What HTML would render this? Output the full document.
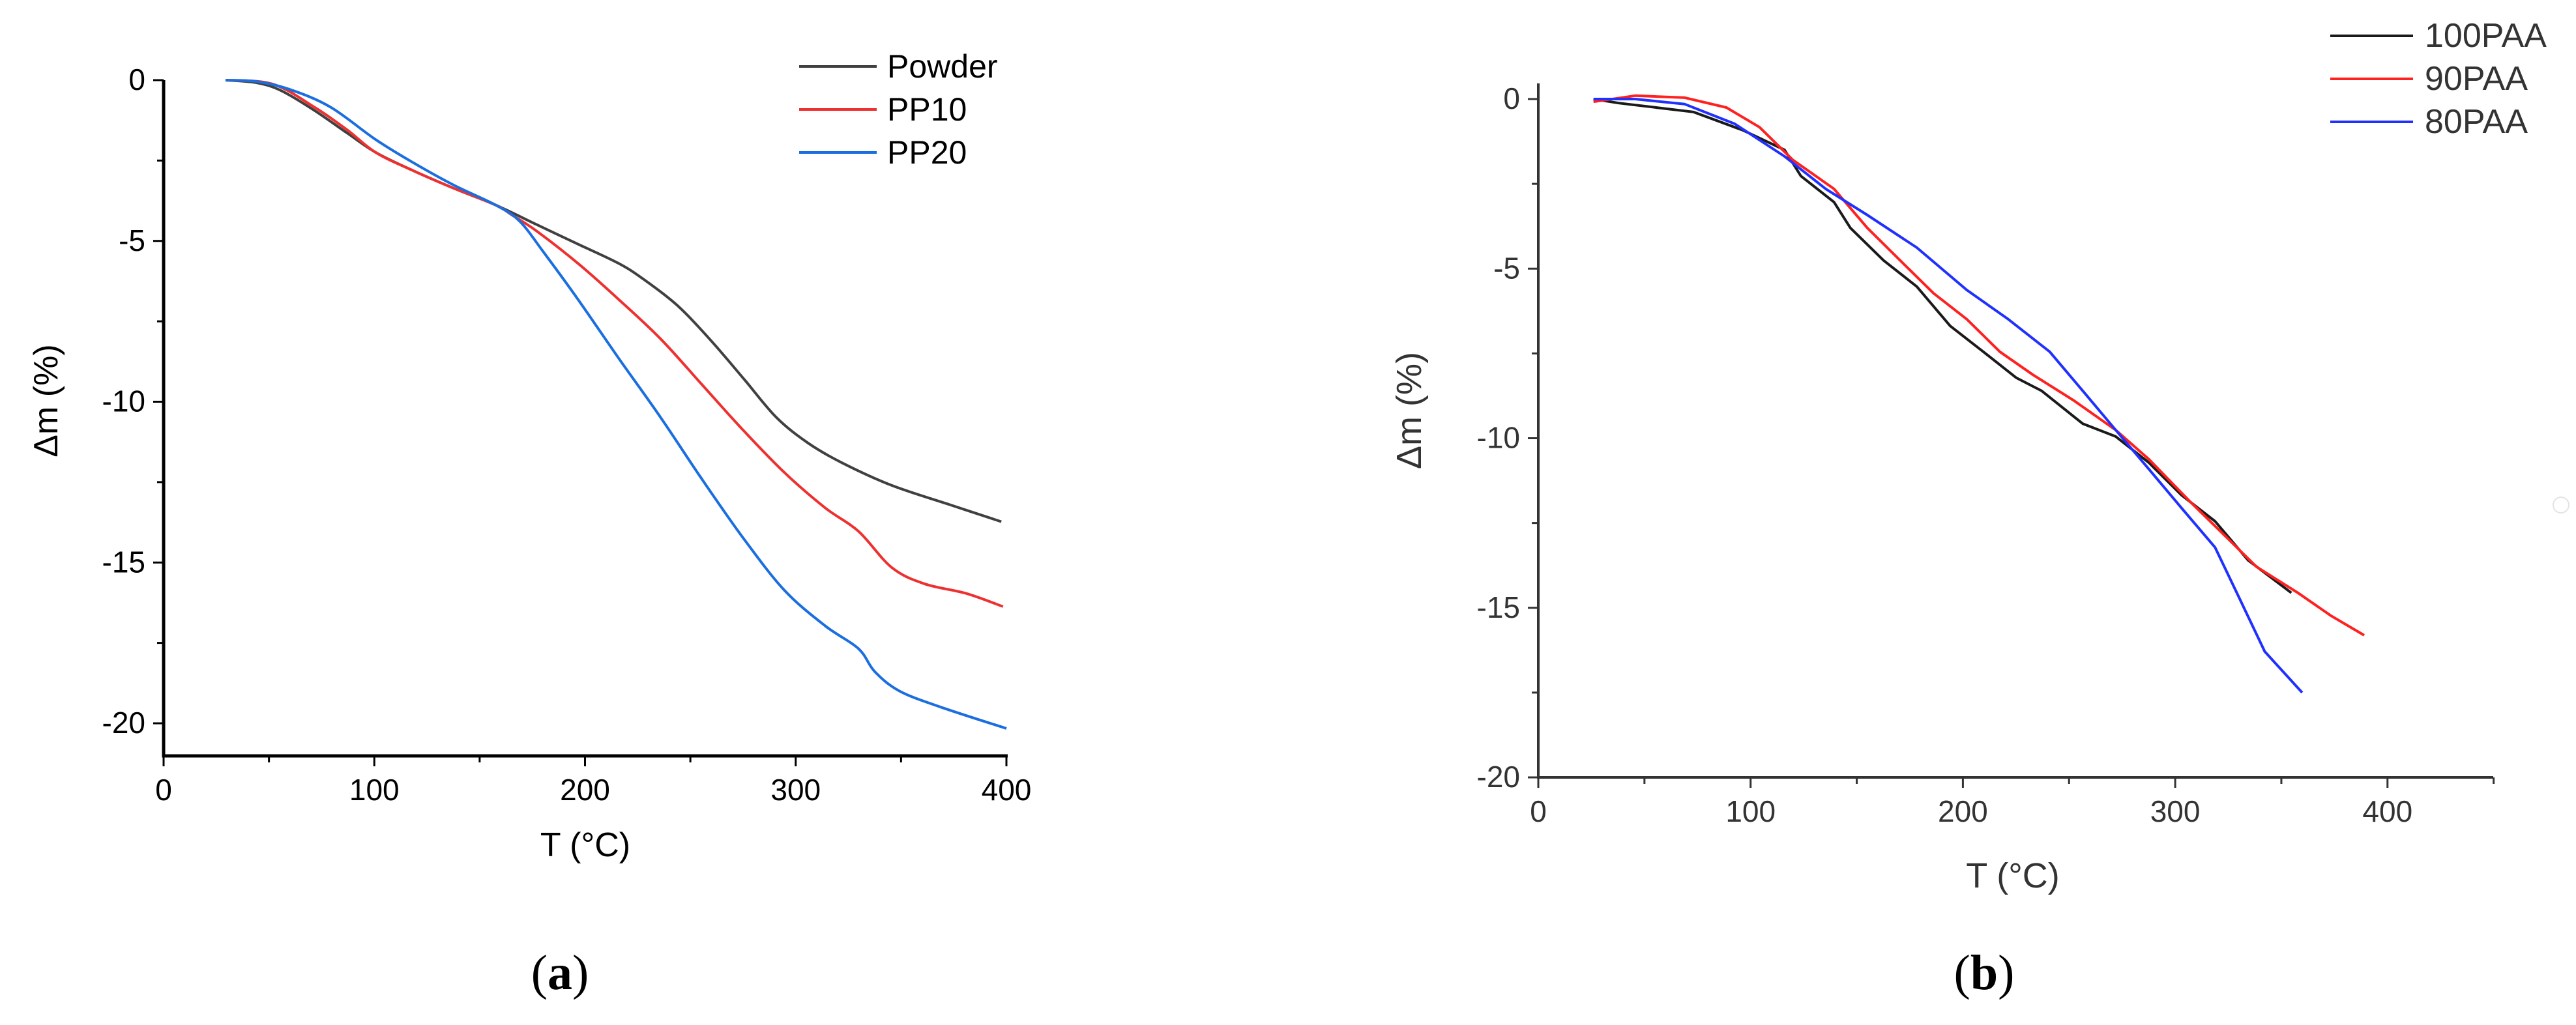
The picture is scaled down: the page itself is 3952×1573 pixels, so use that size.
<!DOCTYPE html>
<html><head><meta charset="utf-8"><style>
html,body{margin:0;padding:0;background:#fff;}
svg{display:block;font-family:"Liberation Sans",sans-serif;}
</style></head><body>
<svg id="svg" width="3952" height="1573" viewBox="0 0 3952 1573" xmlns="http://www.w3.org/2000/svg">
<g id="ga"></g>
<g id="gb"></g>
<text x="859" y="1518" font-family="Liberation Serif, serif" font-size="76" text-anchor="middle">(<tspan font-weight="bold">a</tspan>)</text>
<text x="3044" y="1518" font-family="Liberation Serif, serif" font-size="76" text-anchor="middle">(<tspan font-weight="bold">b</tspan>)</text>
<circle cx="3929" cy="775" r="12" fill="none" stroke="#e4e4e4" stroke-width="2"/>
</svg>
<script>
// ---- Chart (a) data ----
const aNames = ["Powder","PP10","PP20"];
const aColors = ["#404040","#ee3030","#1a6ee0"];
const aPowderT = [29.4,43.9,55.6,71.3,87,100.7,118,138,157.5,177,196.7,216,228,243.7,259,275,290.7,306,322,345.5,373,397.6];
const aPowderM = [0,-0.08,-0.32,-0.93,-1.64,-2.25,-2.8,-3.37,-3.88,-4.49,-5.1,-5.7,-6.2,-7.0,-8.04,-9.26,-10.48,-11.29,-11.9,-12.6,-13.2,-13.73];
const aPP10T = [29.4,51.7,71.3,87,100.7,118,138,157.5,165,177,196.7,216,235.8,255.4,275,294.6,314,329.8,345.5,361,380.8,398.4];
const aPP10M = [0,-0.12,-0.83,-1.54,-2.25,-2.8,-3.37,-3.88,-4.18,-4.69,-5.7,-6.82,-8.04,-9.46,-10.88,-12.2,-13.3,-14.03,-15.15,-15.66,-15.96,-16.37];
const aPP20T = [29.4,43.9,59.5,79,100.7,118.3,137.9,157.5,169,180.9,196.7,216,235.8,255.4,275,294.6,314,329.8,337.6,349.4,369,400];
const aPP20M = [0,-0.04,-0.28,-0.83,-1.85,-2.56,-3.27,-3.88,-4.39,-5.4,-6.82,-8.65,-10.48,-12.4,-14.23,-15.86,-16.97,-17.68,-18.4,-19.0,-19.5,-20.16];
const aXTicks = [0,100,200,300,400];
const aYTicks = [0,-5,-10,-15,-20];
// ---- Chart (b) data ----
const bNames = ["100PAA","90PAA","80PAA"];
const bColors = ["#1a1a1a","#ff2020","#2030ff"];
const b100T = [26,37.9,73,96.4,116,123.7,139.3,147,162.7,178.3,194,209.6,225.2,237,256.4,272,287.6,303,318.8,334.4,354.7];
const b100M = [0,-0.12,-0.38,-0.92,-1.5,-2.27,-3.04,-3.8,-4.76,-5.53,-6.69,-7.45,-8.22,-8.6,-9.57,-9.95,-10.72,-11.68,-12.45,-13.6,-14.56];
const b90T = [26,45.7,69,88.6,104.2,119.8,139.3,155,170.5,186.2,201.8,217.4,233,252.5,272,287.6,307,322.7,338.3,357.8,373.5,389];
const b90M = [-0.08,0.1,0.04,-0.25,-0.83,-1.79,-2.65,-3.8,-4.76,-5.73,-6.49,-7.45,-8.13,-8.9,-9.76,-10.62,-11.87,-12.83,-13.79,-14.56,-15.24,-15.81];
const b80T = [26,45.7,69,92.5,116,135.4,155,178.3,201.8,221.3,240.9,256.4,272,287.6,303,318.8,330.5,342.2,359.8];
const b80M = [0,0,-0.15,-0.73,-1.69,-2.65,-3.42,-4.38,-5.63,-6.49,-7.45,-8.6,-9.76,-10.91,-12.06,-13.22,-14.75,-16.29,-17.5];
const bXTicks = [0,100,200,300,400];
const bYTicks = [0,-5,-10,-15,-20];

const NS="http://www.w3.org/2000/svg";
function mk(parent,tag,attrs,text){const e=document.createElementNS(NS,tag);for(const k in attrs)e.setAttribute(k,attrs[k]);if(text!==undefined)e.textContent=text;parent.appendChild(e);return e;}

function smoothPath(pts){
  let d="M"+pts[0][0].toFixed(1)+","+pts[0][1].toFixed(1);
  for(let i=0;i<pts.length-1;i++){
    const p0=pts[Math.max(0,i-1)],p1=pts[i],p2=pts[i+1],p3=pts[Math.min(pts.length-1,i+2)];
    const c1x=p1[0]+(p2[0]-p0[0])/6,c1y=p1[1]+(p2[1]-p0[1])/6;
    const c2x=p2[0]-(p3[0]-p1[0])/6,c2y=p2[1]-(p3[1]-p1[1])/6;
    d+=` C${c1x.toFixed(1)},${c1y.toFixed(1)} ${c2x.toFixed(1)},${c2y.toFixed(1)} ${p2[0].toFixed(1)},${p2[1].toFixed(1)}`;
  }
  return d;
}

function drawChart(g,cfg){
  const sx=v=>cfg.x0+(v-cfg.xmin)*cfg.xs;
  const sy=v=>cfg.y0-(v)*cfg.ys;
  let e=mk(g,"line",{x1:cfg.x0,y1:cfg.yTop,x2:cfg.x0,y2:cfg.yAxis,stroke:cfg.axisColor,"stroke-width":cfg.aw});
  
  
  e=mk(g,"line",{x1:cfg.x0-cfg.aw/2,y1:cfg.yAxis,x2:cfg.xEnd,y2:cfg.yAxis,stroke:cfg.axisColor,"stroke-width":cfg.aw});
  
  
  cfg.xTicks.forEach((t,i)=>{
    const x=sx(t);
    let l=mk(g,"line",{x1:x,y1:cfg.yAxis,x2:x,y2:cfg.yAxis+16,stroke:cfg.axisColor,"stroke-width":3});
    
    
    let tx=mk(g,"text",{x:x,y:cfg.yAxis+68,"font-size":cfg.fs,"text-anchor":"middle",fill:cfg.textColor},String(t));
    
    
    if(i<cfg.xTicks.length-1||cfg.extraMinor){
      const xm=sx(t+50);
      let m=mk(g,"line",{x1:xm,y1:cfg.yAxis,x2:xm,y2:cfg.yAxis+10,stroke:cfg.axisColor,"stroke-width":3});
      
      
    }
  });
  cfg.yTicks.forEach((t,i)=>{
    const y=sy(t);
    let l=mk(g,"line",{x1:cfg.x0-16,y1:y,x2:cfg.x0,y2:y,stroke:cfg.axisColor,"stroke-width":3});
    
    
    let tx=mk(g,"text",{x:cfg.x0-28,y:y+15,"font-size":cfg.fs,"text-anchor":"end",fill:cfg.textColor},String(t));
    
    
    if(i<cfg.yTicks.length-1){
      const ym=sy(t-2.5);
      let m=mk(g,"line",{x1:cfg.x0-10,y1:ym,x2:cfg.x0,y2:ym,stroke:cfg.axisColor,"stroke-width":3});
      
      
    }
  });
  let xt=mk(g,"text",{x:cfg.xtx,y:cfg.xty,"font-size":cfg.tfs,"text-anchor":"middle",fill:cfg.textColor},"T (°C)");
  
  
  let yt=mk(g,"text",{x:0,y:0,"font-size":cfg.tfs,"text-anchor":"middle",fill:cfg.textColor,transform:`translate(${cfg.ytx},${cfg.yty}) rotate(-90)`},"Δm (%)");
  
  
  cfg.series.forEach((s,i)=>{
    const pts=s.T.map((t,j)=>[sx(t),sy(s.M[j])]);
    const d=cfg.smooth?smoothPath(pts):pts.map((p,j)=>(j?"L":"M")+p[0].toFixed(1)+","+p[1].toFixed(1)).join(" ");
    let p=mk(g,"path",{d:d,fill:"none",stroke:cfg.colors[i],"stroke-width":cfg.lw,"stroke-linejoin":"round"});
    
    
    const ly=cfg.legY+i*cfg.legDy;
    let ll=mk(g,"line",{x1:cfg.legX1,y1:ly,x2:cfg.legX2,y2:ly,stroke:cfg.colors[i],"stroke-width":cfg.lw});
    
    
    let lt=mk(g,"text",{x:cfg.legTx,y:ly+17,"font-size":cfg.lfs,fill:cfg.textColor},cfg.names[i]);
    
    
  });
}

drawChart(document.getElementById("ga"),{
  x0:251,xmin:0,xs:(1544-251)/400,y0:123,ys:(1110-123)/20,yTop:123,yAxis:1160,xEnd:1546,
  aw:5,axisColor:"#000",textColor:"#000",fs:46,tfs:52,lw:4,extraMinor:false,smooth:true,
  xTicks:aXTicks,yTicks:aYTicks,xtx:898,xty:1314,ytx:88,yty:615,
  names:aNames,colors:aColors,
  series:[{T:aPowderT,M:aPowderM},{T:aPP10T,M:aPP10M},{T:aPP20T,M:aPP20M}],
  legY:102,legDy:66,legX1:1226,legX2:1345,legTx:1361,lfs:50
});
drawChart(document.getElementById("gb"),{
  x0:2360,xmin:0,xs:3.257,y0:152,ys:(1193-152)/20,yTop:128,yAxis:1193,xEnd:3825,
  aw:4,axisColor:"#333",textColor:"#333",fs:46,tfs:54,lw:4,extraMinor:true,smooth:false,
  xTicks:bXTicks,yTicks:bYTicks,xtx:3088,xty:1362,ytx:2180,yty:630,
  names:bNames,colors:bColors,
  series:[{T:b100T,M:b100M},{T:b90T,M:b90M},{T:b80T,M:b80M}],
  legY:55,legDy:66,legX1:3575,legX2:3702,legTx:3720,lfs:52
});
</script>
</body></html>
